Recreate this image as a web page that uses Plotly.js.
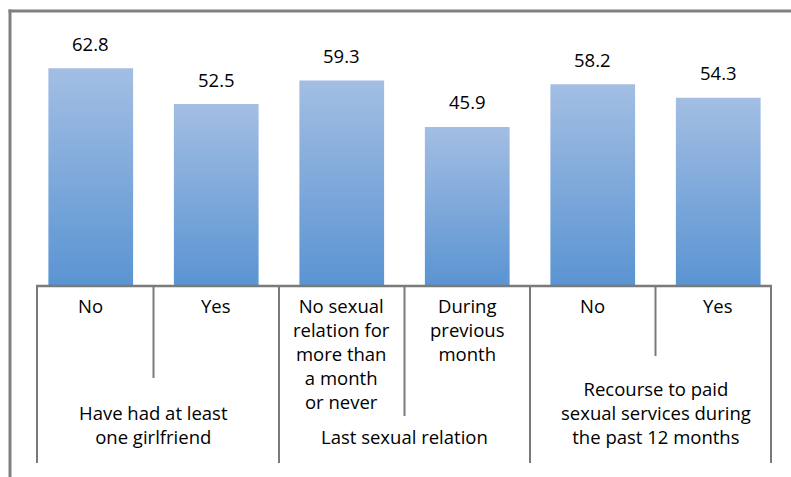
<!DOCTYPE html>
<html>
<head>
<meta charset="utf-8">
<script src="https://cdn.plot.ly/plotly-3.0.1.min.js"></script>
<style>
html,body{margin:0;padding:0;background:#fff;}
#chart{width:791px;height:477px;}
</style>
</head>
<body>
<div id="chart"></div>
<script>
// ---- data ----
const categories = ["No", "Yes", "No sexual<br>relation for<br>more than<br>a month<br>or never", "During<br>previous<br>month", "No", "Yes"];
const values = [62.8, 52.5, 59.3, 45.9, 58.2, 54.3];
const groupLabels = ["Have had at least<br>one girlfriend", "Last sexual relation", "Recourse to paid<br>sexual services during<br>the past 12 months"];
const groupSizes = [2, 2, 2];

// ---- layout helpers (styles / positions) ----
const W = 791, H = 477;
const mL = 28, mR = 10, mT = 26, mB = 191;
const plotW = W - mL - mR, plotH = H - mT - mB;
const px2paperX = p => (p - mL) / plotW;
const px2paperY = p => (H - mB - p) / plotH;
const font = {family: "Open Sans, sans-serif", size: 18.5, color: "#000"};
const lineCol = "#7a7a7a";

const xIdx = categories.map((_, i) => i);

const annotations = [];
// value labels
values.forEach((v, i) => annotations.push({
  x: i, y: v, xref: "x", yref: "y", text: v.toFixed(1), showarrow: false,
  yshift: 25, yanchor: "middle", font: font
}));
// category labels
categories.forEach((c, i) => annotations.push({
  x: i, y: px2paperY(290.5), xref: "x", yref: "paper", text: c, showarrow: false,
  yanchor: "top", xanchor: "center", align: "center", font: font
}));
// group labels + dividers
const shapes = [];
const shortEnds = [378, 416, 356];
let start = 0;
groupLabels.forEach((g, k) => {
  const end = start + groupSizes[k] - 1;
  annotations.push({
    x: (start + end) / 2, y: px2paperY(451), xref: "x", yref: "paper", text: g, showarrow: false,
    yanchor: "bottom", xanchor: "center", align: "center", font: font
  });
  // short dividers inside group
  for (let b = start; b < end; b++) {
    shapes.push({type: "line", xref: "x", yref: "paper", x0: b + 0.5, x1: b + 0.5,
      y0: px2paperY(286), y1: px2paperY(shortEnds[k]), line: {color: lineCol, width: 2}});
  }
  // full divider between groups
  if (k < groupLabels.length - 1) {
    shapes.push({type: "line", xref: "x", yref: "paper", x0: end + 0.5, x1: end + 0.5,
      y0: px2paperY(286), y1: px2paperY(463), line: {color: lineCol, width: 2}});
  }
  start = end + 1;
});
// outer axis ends
[37, 771].forEach(p => shapes.push({type: "line", xref: "paper", yref: "paper",
  x0: px2paperX(p), x1: px2paperX(p), y0: px2paperY(286), y1: px2paperY(463),
  line: {color: lineCol, width: 2}}));
// axis line
shapes.push({type: "line", xref: "paper", yref: "paper", x0: px2paperX(36), x1: px2paperX(772),
  y0: px2paperY(286), y1: px2paperY(286), line: {color: lineCol, width: 2.5}});
// chart frame (top and left visible)
shapes.push({type: "line", xref: "paper", yref: "paper", x0: px2paperX(8.5), x1: px2paperX(800),
  y0: px2paperY(11), y1: px2paperY(11), line: {color: "#808080", width: 3}});
shapes.push({type: "line", xref: "paper", yref: "paper", x0: px2paperX(10), x1: px2paperX(10),
  y0: px2paperY(9.5), y1: px2paperY(490), line: {color: "#808080", width: 3}});

const trace = {
  type: "bar", x: xIdx, y: values,
  marker: {color: "#7ea6da", line: {width: 0}},
  hoverinfo: "skip"
};

const layout = {
  width: W, height: H,
  margin: {l: mL, r: mR, t: mT, b: mB, pad: 0},
  paper_bgcolor: "#fff", plot_bgcolor: "#fff",
  bargap: 0.325,
  showlegend: false,
  xaxis: {range: [-0.5, 5.5], showticklabels: false, showgrid: false, zeroline: false, showline: false, ticks: "", fixedrange: true},
  yaxis: {range: [0, 75], visible: false, showgrid: false, zeroline: false, fixedrange: true},
  annotations: annotations,
  shapes: shapes,
  font: font
};

Plotly.newPlot("chart", [trace], layout, {staticPlot: true}).then(gd => {
  const svg = gd.querySelector("svg.main-svg");
  const NS = "http://www.w3.org/2000/svg";
  let defs = svg.querySelector("defs");
  if (!defs) { defs = document.createElementNS(NS, "defs"); svg.insertBefore(defs, svg.firstChild); }
  const grad = document.createElementNS(NS, "linearGradient");
  grad.setAttribute("id", "barGrad");
  grad.setAttribute("x1", "0"); grad.setAttribute("y1", "0");
  grad.setAttribute("x2", "0"); grad.setAttribute("y2", "1");
  [["0%", "#a3bee3"], ["100%", "#5a94d2"]].forEach(([o, c]) => {
    const s = document.createElementNS(NS, "stop");
    s.setAttribute("offset", o); s.setAttribute("stop-color", c);
    grad.appendChild(s);
  });
  defs.appendChild(grad);
  gd.querySelectorAll(".bars .point path").forEach(p => { p.style.fill = "url(#barGrad)"; });
});
</script>
</body>
</html>
